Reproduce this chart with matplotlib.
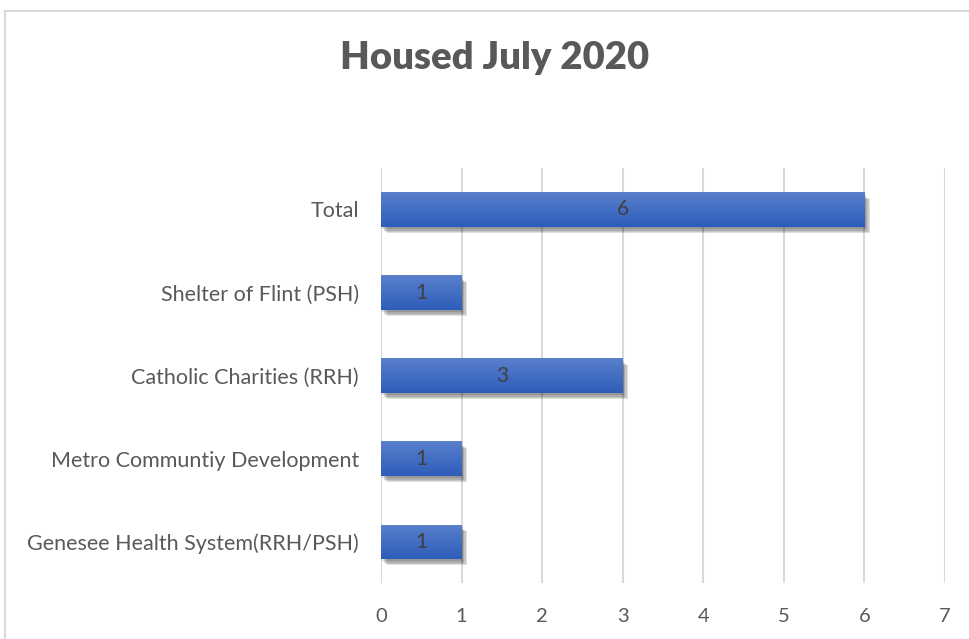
import matplotlib
matplotlib.use("Agg")
import matplotlib.pyplot as plt
import matplotlib.patheffects as pe
from matplotlib.lines import Line2D
import numpy as np

# chart data (bottom to top)
categories = ["Genesee Health System(RRH/PSH)", "Metro Communtiy Development",
              "Catholic Charities (RRH)", "Shelter of Flint (PSH)", "Total"]
values = [1, 1, 3, 1, 6]
x_ticks = [0, 1, 2, 3, 4, 5, 6, 7]

plt.rcParams['font.family'] = ['Lato', 'DejaVu Sans']
text_color = '#595959'

fig = plt.figure(figsize=(9.69, 6.39), dpi=100)
ax = fig.add_axes([0.3932, 0.0876, 0.582, 0.6495])

# soft drop shadow, built up from a few faint offset copies
shadow = [pe.SimplePatchShadow(offset=(o, -o - 1), shadow_rgbFace='#000000', alpha=0.12)
          for o in (1, 2, 3, 4)]

y = np.arange(len(categories))
bars = ax.barh(y, values, height=0.41, color='#3A67C0', zorder=3,
               path_effects=shadow + [pe.Normal()])

# vertical gradient inside each bar
grad = np.linspace(0, 1, 64).reshape(-1, 1)
cmap = matplotlib.colors.LinearSegmentedColormap.from_list('g', ['#2D5DBA', '#5A80CC'])
for b in bars:
    x0, y0 = b.get_x(), b.get_y()
    w, h = b.get_width(), b.get_height()
    im = ax.imshow(grad, extent=[x0, x0 + w, y0, y0 + h], origin='lower', cmap=cmap,
                   aspect='auto', zorder=4)
    im.set_clip_path(b)

for b, v in zip(bars, values):
    ax.text(b.get_x() + b.get_width() / 2, b.get_y() + b.get_height() / 2, str(v),
            ha='center', va='center', fontsize=15, color='#404040', zorder=5)

ax.set_xlim(0, 7)
ax.set_ylim(-0.5, len(categories) - 0.5)
ax.set_xticks(x_ticks)
ax.set_yticks(y)
ax.set_yticklabels(categories)
ax.tick_params(axis='both', length=0, labelcolor=text_color)
ax.tick_params(axis='x', pad=18, labelsize=14.5)
ax.tick_params(axis='y', pad=16, labelsize=15.5)
ax.grid(axis='x', color='#D9D9D9', linewidth=1.5, zorder=0)
ax.set_axisbelow(True)
for s in ax.spines.values():
    s.set_visible(False)

fig.text(0.51, 1 - 58 / 639, "Housed July 2020", ha='center', va='center',
         fontsize=27.5, fontweight='heavy', color=text_color)

# chart area border (clipped at right and bottom)
fig.add_artist(Line2D([5 / 969, 5 / 969], [0, 1 - 11 / 639], color='#D9D9D9', linewidth=1.5))
fig.add_artist(Line2D([5 / 969, 1], [1 - 11 / 639, 1 - 11 / 639], color='#D9D9D9', linewidth=1.5))

fig.savefig('out.png', dpi=100)
